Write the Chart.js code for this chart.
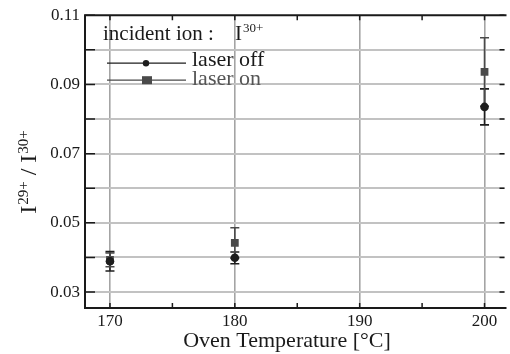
<!DOCTYPE html>
<html>
<head>
<meta charset="utf-8">
<script src="https://cdn.jsdelivr.net/npm/chart.js@4/dist/chart.umd.min.js"></script>
<style>
html,body{margin:0;padding:0;background:#fff;}
#wrap{width:510px;height:354px;position:relative;}
</style>
</head>
<body>
<div id="wrap"><canvas id="c"></canvas></div>
<script>
// ---- data ----
const temperatures = [170, 180, 200];
const laserOff = [0.0389, 0.0399, 0.0835];
const laserOffErr = [0.0028, 0.0017, 0.0052];
const laserOn = [0.0393, 0.0442, 0.0936];
const laserOnErr = [0.0020, 0.0044, 0.0099];
const xTickValues = [170, 175, 180, 185, 190, 195, 200];
const xLabelValues = [170, 180, 190, 200];
const yTickValues = [0.03, 0.04, 0.05, 0.06, 0.07, 0.08, 0.09, 0.10, 0.11];
const yLabelValues = ['0.03', '0.05', '0.07', '0.09', '0.11'];
const seriesNames = ['laser off', 'laser on'];
const legendHeader = ['incident ion :', 'I', '30+'];
const yTitleParts = [['I', false], ['29+', true], [' / I', false], ['30+', true]];
const xTitle = 'Oven Temperature [°C]';

const SERIF = "'Liberation Serif', 'DejaVu Serif', serif";
const offColor = '#1e1e1e';
const onColor = '#4a4a4a';

const errs = [laserOffErr, laserOnErr];

const errorBars = {
  id: 'errorBars',
  beforeDatasetsDraw(chart) {
    const ctx = chart.ctx, ys = chart.scales.y;
    chart.data.datasets.forEach((ds, di) => {
      const meta = chart.getDatasetMeta(di);
      ctx.save();
      ctx.strokeStyle = ds.borderColor;
      ctx.lineWidth = 1.6;
      meta.data.forEach((pt, i) => {
        const v = ds.data[i].y, e = errs[di][i];
        const yt = ys.getPixelForValue(v + e), yb = ys.getPixelForValue(v - e);
        ctx.beginPath();
        ctx.moveTo(pt.x, yt); ctx.lineTo(pt.x, yb);
        ctx.moveTo(pt.x - 4.5, yt); ctx.lineTo(pt.x + 4.5, yt);
        ctx.moveTo(pt.x - 4.5, yb); ctx.lineTo(pt.x + 4.5, yb);
        ctx.stroke();
      });
      ctx.restore();
    });
  }
};

const frameAndLegend = {
  id: 'frameAndLegend',
  afterDraw(chart) {
    const ctx = chart.ctx, a = chart.chartArea, xs = chart.scales.x, ys = chart.scales.y;
    ctx.save();
    ctx.strokeStyle = '#1a1a1a';
    // inward ticks
    ctx.lineWidth = 1.5;
    ctx.beginPath();
    yTickValues.forEach(v => {
      const y = ys.getPixelForValue(v);
      ctx.moveTo(a.left, y); ctx.lineTo(a.left + 10, y);
      ctx.moveTo(a.right, y); ctx.lineTo(a.right - 5, y);
    });
    xTickValues.forEach(v => {
      const x = xs.getPixelForValue(v);
      ctx.moveTo(x, a.bottom); ctx.lineTo(x, a.bottom - 5);
      ctx.moveTo(x, a.top); ctx.lineTo(x, a.top + 5);
    });
    ctx.stroke();
    // frame
    ctx.lineWidth = 2;
    ctx.beginPath();
    ctx.moveTo(a.right + 2, a.top); ctx.lineTo(a.left, a.top);
    ctx.lineTo(a.left, a.bottom); ctx.lineTo(a.right + 2, a.bottom);
    ctx.stroke();

    // axis titles
    ctx.fillStyle = '#1a1a1a';
    ctx.textBaseline = 'alphabetic';
    ctx.textAlign = 'center';
    ctx.font = '22px ' + SERIF;
    ctx.fillText(xTitle, 287, 347);

    // y title (rotated, with superscripts)
    ctx.textAlign = 'left';
    const bigF = '24px ' + SERIF, supF = '15px ' + SERIF;
    let total = 0;
    yTitleParts.forEach(([t, sup]) => { ctx.font = sup ? supF : bigF; total += ctx.measureText(t).width + (sup ? 1 : 0); });
    ctx.save();
    ctx.translate(36, 172);
    ctx.rotate(-Math.PI / 2);
    let px = -total / 2;
    yTitleParts.forEach(([t, sup]) => {
      ctx.font = sup ? supF : bigF;
      ctx.fillText(t, px + (sup ? 1 : 0), sup ? -8 : 0);
      px += ctx.measureText(t).width + (sup ? 1 : 0);
    });
    ctx.restore();

    // legend (inside the plot)
    ctx.fillStyle = '#1a1a1a';
    ctx.textBaseline = 'alphabetic';
    ctx.font = '21px ' + SERIF;
    const hx = a.left + 18, hy = a.top + 25;
    ctx.fillText(legendHeader[0], hx, hy);
    ctx.fillText(legendHeader[1], a.left + 150, hy);
    const w = ctx.measureText(legendHeader[1]).width;
    ctx.font = '13px ' + SERIF;
    ctx.fillText(legendHeader[2], a.left + 150 + w + 1, hy - 8);

    const rows = [
      {y: a.top + 48, ty: a.top + 45, color: offColor, style: 'circle'},
      {y: a.top + 65, ty: a.top + 64, color: onColor, style: 'rect'}
    ];
    rows.forEach((r, i) => {
      ctx.strokeStyle = r.color; ctx.lineWidth = 1.3;
      ctx.beginPath(); ctx.moveTo(a.left + 22, r.y); ctx.lineTo(a.left + 101, r.y); ctx.stroke();
      ctx.fillStyle = r.color;
      if (r.style === 'circle') {
        ctx.beginPath(); ctx.arc(a.left + 61, r.y, 3.2, 0, Math.PI * 2); ctx.fill();
      } else {
        ctx.fillRect(a.left + 57, r.y - 4, 10, 8);
      }
      ctx.font = '22px ' + SERIF;
      ctx.textBaseline = 'middle';
      ctx.fillStyle = i === 0 ? '#1a1a1a' : '#555';
      ctx.fillText(seriesNames[i], a.left + 107, r.ty);
    });
    ctx.restore();
  }
};

new Chart(document.getElementById('c'), {
  type: 'scatter',
  data: {
    datasets: [
      {
        label: seriesNames[0],
        data: temperatures.map((t, i) => ({x: t, y: laserOff[i]})),
        pointStyle: 'circle', pointRadius: 4.3,
        backgroundColor: offColor, borderColor: offColor, borderWidth: 0
      },
      {
        label: seriesNames[1],
        data: temperatures.map((t, i) => ({x: t, y: laserOn[i]})),
        pointStyle: 'rect', pointRadius: 5.5,
        backgroundColor: onColor, borderColor: onColor, borderWidth: 0
      }
    ]
  },
  options: {
    responsive: true,
    maintainAspectRatio: false,
    animation: false,
    layout: {padding: {top: 15, right: 2, left: 0, bottom: 0}},
    plugins: {legend: {display: false}, tooltip: {enabled: false}},
    scales: {
      x: {
        type: 'linear', min: 168, max: 201.6,
        afterBuildTicks(s) { s.ticks = xTickValues.map(v => ({value: v})); },
        afterFit(s) { s.height = 46; },
        border: {display: false},
        grid: {
          drawTicks: false,
          color: c => (c.tick && xLabelValues.includes(c.tick.value)) ? '#a4a4a4' : 'rgba(0,0,0,0)',
          lineWidth: 1.6
        },
        ticks: {
          padding: 3, color: '#1a1a1a',
          font: {family: SERIF, size: 17},
          callback: v => xLabelValues.includes(v) ? String(v) : ''
        },
        title: {display: false}
      },
      y: {
        type: 'linear', min: 0.0254, max: 0.11,
        afterBuildTicks(s) { s.ticks = yTickValues.map(v => ({value: v})); },
        afterFit(s) { s.width = 85; },
        border: {display: false},
        grid: {
          drawTicks: false,
          color: c => (c.tick && c.tick.value > 0.105) ? 'rgba(0,0,0,0)' : '#c2c2c2',
          lineWidth: 2
        },
        ticks: {
          padding: 5, color: '#1a1a1a',
          font: {family: SERIF, size: 17},
          callback: v => { const s = v.toFixed(2); return yLabelValues.includes(s) ? s : ''; }
        },
        title: {display: false}
      }
    }
  },
  plugins: [errorBars, frameAndLegend]
});
</script>
</body>
</html>
